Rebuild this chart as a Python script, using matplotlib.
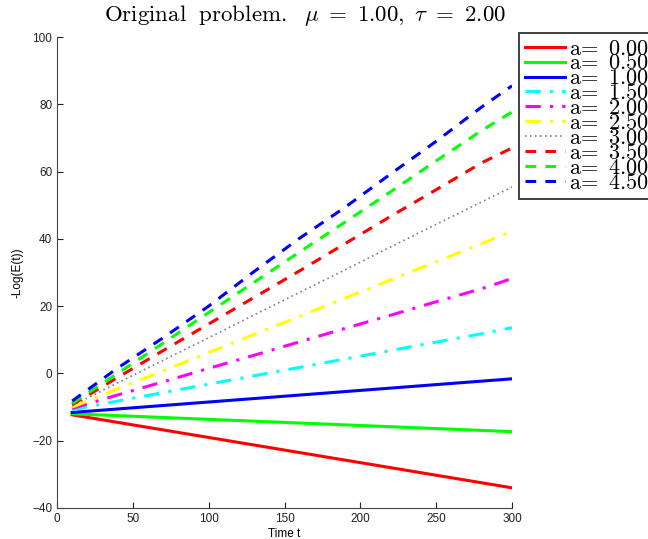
import matplotlib
matplotlib.use("Agg")
import matplotlib.pyplot as plt

plt.rcParams["mathtext.fontset"] = "cm"
plt.rcParams["font.family"] = ["Liberation Sans", "DejaVu Sans"]

# decay rate estimates, one curve per value of a
a_values = [0.00, 0.50, 1.00, 1.50, 2.00, 2.50, 3.00, 3.50, 4.00, 4.50]

t_lin = [10, 300]
t_dense = [10, 40, 70, 100, 130, 160, 190, 220, 250, 280, 300]

curves = {
    0.00: (t_lin, [-12.3, -34.0]),
    0.50: (t_lin, [-12.0, -17.3]),
    1.00: (t_lin, [-11.6, -1.6]),
    1.50: (t_dense, [-10.8, -8.2, -5.7, -3.2, -0.7, 1.8, 4.3, 6.8, 9.3, 11.8, 13.6]),
    2.00: (t_dense, [-10.4, -6.4, -2.5, 1.5, 5.4, 9.4, 13.4, 17.3, 21.3, 25.2, 28.2]),
    2.50: (t_dense, [-10.0, -4.6, 0.8, 6.2, 11.6, 17.0, 22.4, 27.8, 33.2, 38.6, 42.3]),
    3.00: (t_dense, [-9.6, -2.8, 3.9, 10.6, 17.4, 24.1, 30.8, 37.6, 44.3, 51.0, 55.4]),
    3.50: (t_dense, [-9.3, -1.2, 6.8, 14.7, 22.6, 30.5, 38.6, 46.7, 54.6, 62.6, 67.0]),
    4.00: (t_dense, [-8.9, 0.0, 9.0, 18.1, 27.1, 36.1, 45.0, 54.0, 63.2, 72.2, 77.7]),
    4.50: (t_dense, [-8.2, 1.6, 10.6, 20.0, 30.3, 40.2, 49.4, 59.3, 69.0, 79.2, 85.5]),
}

colors = ["red", "#00ff00", "blue", "cyan", "magenta", "yellow", "gray",
          "red", "#00ff00", "blue"]
dashdot = (0, (5, 3, 1, 3))
dashed = (0, (3.5, 3))
styles = ["-", "-", "-", dashdot, dashdot, dashdot, (0, (1, 2)), dashed, dashed, dashed]
widths = [2.2, 2.2, 2.2, 2.2, 2.2, 2.2, 1.2, 2.2, 2.2, 2.2]

fig = plt.figure(figsize=(6.48, 5.39), dpi=100)
ax = fig.add_axes([57 / 648, 31 / 539, 455 / 648, 471 / 539])

for a, c, ls, lw in zip(a_values, colors, styles, widths):
    t, y = curves[a]
    ax.plot(t, y, color=c, linestyle=ls, linewidth=lw, label=r"$\mathrm{a}\!=\ %.2f$" % a)

ax.set_xlim(0, 300)
ax.set_ylim(-40, 100)
ax.set_xticks(range(0, 301, 50))
ax.set_yticks(range(-40, 101, 20))
ax.tick_params(direction="in", labelsize=8.5, length=4, colors="#222222")
for side in ["top", "right"]:
    ax.spines[side].set_visible(False)
for side in ["left", "bottom"]:
    ax.spines[side].set_color("#444444")

ax.set_xlabel("Time t", fontsize=8.5, labelpad=2)
ax.set_ylabel("-Log(E(t))", fontsize=8.5, labelpad=6)
fig.text(305 / 648, 1 - 16 / 539,
         r"$\mathrm{Original\ \ problem.}\ \ \mu\ =\ 1.00,\ \tau\ =\ 2.00$",
         fontsize=16.5, ha="center", va="center")

leg = fig.legend(loc="upper left", bbox_to_anchor=(519 / 648, 1 - 33 / 539),
                 fontsize=16, frameon=True, fancybox=False, edgecolor="black",
                 labelspacing=-0.275, handlelength=1.8, handletextpad=0.2,
                 borderpad=0.25, borderaxespad=0)
leg.get_frame().set_linewidth(1.3)

fig.savefig("out.png", dpi=100)
